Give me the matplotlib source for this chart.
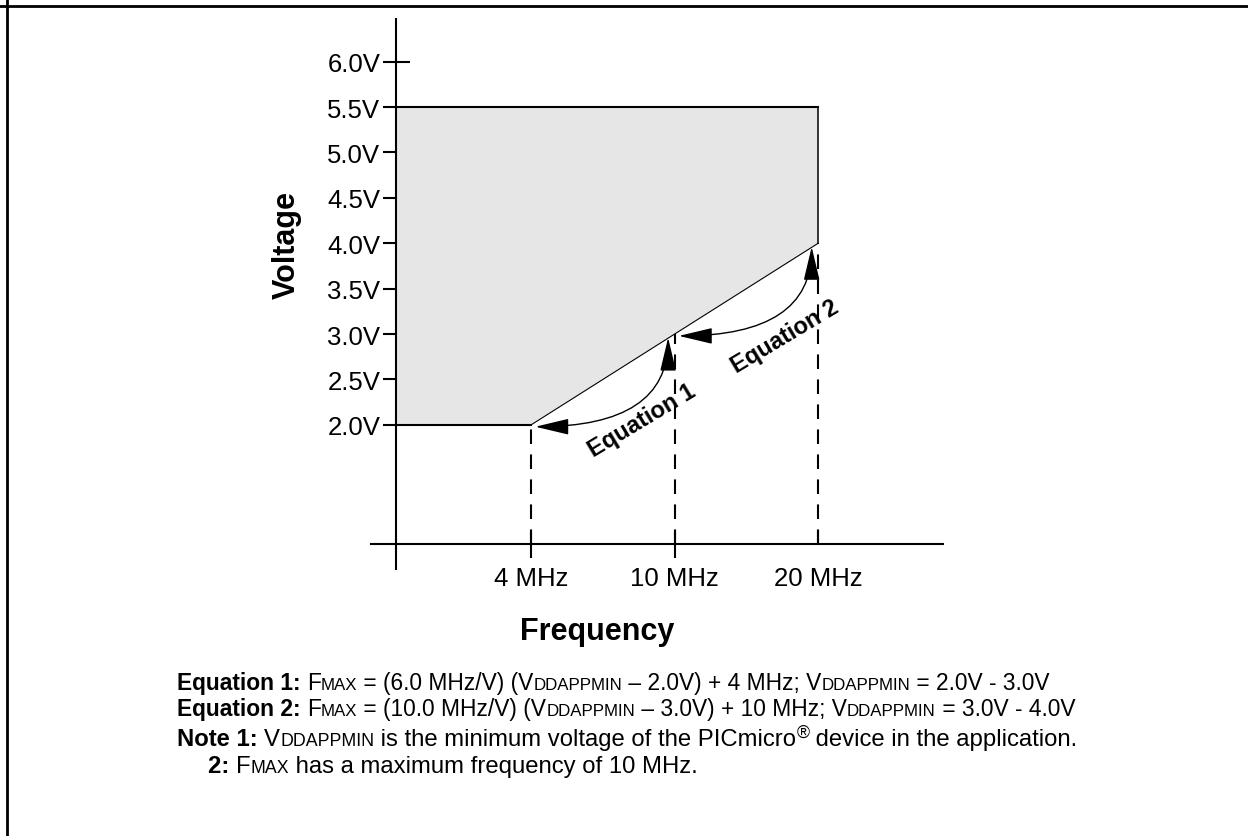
import matplotlib
matplotlib.use("Agg")
import matplotlib.pyplot as plt
from matplotlib.patches import FancyArrowPatch
from matplotlib.lines import Line2D

plt.rcParams['font.family'] = ['Liberation Sans', 'DejaVu Sans']

# dados do diagrama
freq_labels = ["4 MHz", "10 MHz", "20 MHz"]
freq_pos = [1, 2, 3]
vdd_min = [2.0, 3.0, 4.0]          # tensao minima em cada frequencia
v_max = 5.5
v_ticks = [2.0, 2.5, 3.0, 3.5, 4.0, 4.5, 5.0, 5.5, 6.0]
v_tick_labels = ["2.0V", "2.5V", "3.0V", "3.5V", "4.0V", "4.5V", "5.0V", "5.5V", "6.0V"]
eq_labels = ["Equation 1", "Equation 2"]

W, H = 1248, 837
fig = plt.figure(figsize=(W / 100, H / 100), dpi=100)

# eixo posicionado em pixels
left, right, top, bottom = 371, 943, 20, 570
ax = fig.add_axes([left / W, (H - bottom) / H, (right - left) / W, (bottom - top) / H])
ax.set_xlim(-0.115, 3.87)
ax.set_ylim(0.413, 6.47)
ax.patch.set_visible(False)

x0 = 0.06      # posicao do eixo vertical
y0 = 0.689     # posicao do eixo horizontal

for s in ['top', 'right']:
    ax.spines[s].set_visible(False)
ax.spines['left'].set_position(('data', x0))
ax.spines['bottom'].set_position(('data', y0))
ax.spines['left'].set_linewidth(1.5)
ax.spines['bottom'].set_linewidth(1.5)

# ticks
ax.xaxis.remove_overlapping_locs = False
ax.yaxis.remove_overlapping_locs = False
ax.set_xticks(freq_pos)
ax.set_xticklabels(freq_labels)
ax.set_xticks(freq_pos[:2], minor=True)
ax.set_yticks(v_ticks)
ax.set_yticklabels(v_tick_labels)
ax.set_yticks([v_ticks[-1]], minor=True)
ax.tick_params(axis='x', which='major', direction='in', length=10, width=1.5, pad=16, labelsize=18.5)
ax.tick_params(axis='x', which='minor', direction='out', length=10, width=1.5)
ax.tick_params(axis='y', which='major', direction='out', length=9.5, width=1.5, pad=2, labelsize=18.5)
ax.tick_params(axis='y', which='minor', direction='in', length=10, width=1.5)

# area de operacao
xs = [x0] + freq_pos + [freq_pos[-1], x0]
ys = [vdd_min[0]] + vdd_min + [v_max, v_max]
ax.fill(xs, ys, color='#e6e6e6', lw=0, zorder=1)
ax.plot([x0, freq_pos[0]], [vdd_min[0], vdd_min[0]], color='black', lw=1.5, zorder=2)
ax.plot(freq_pos, vdd_min, color='black', lw=0.8, zorder=2)
ax.plot([freq_pos[-1], freq_pos[-1]], [vdd_min[-1], v_max], color='black', lw=1.1, zorder=2)
ax.plot([x0, freq_pos[-1]], [v_max, v_max], color='black', lw=1.5, zorder=2)

# linhas tracejadas
for f, v in zip(freq_pos, vdd_min):
    ax.plot([f, f], [y0, v], color='black', lw=1.5, linestyle=(0, (7, 5)), zorder=2)

# setas curvas
for i in range(2):
    pA = (freq_pos[i] + 0.03, vdd_min[i] - 0.02)
    pB = (freq_pos[i + 1] - 0.045, vdd_min[i + 1] - 0.04)
    arr = FancyArrowPatch(pA, pB, arrowstyle='<|-|>,head_length=2.1,head_width=0.5',
                          connectionstyle='angle3,angleA=0,angleB=90',
                          mutation_scale=10, color='black', lw=1.0,
                          shrinkA=0, shrinkB=0, zorder=3)
    ax.add_patch(arr)

ax.text(1.77, 2.05, eq_labels[0], rotation=31, fontsize=17, fontweight='bold',
        ha='center', va='center', rotation_mode='anchor')
ax.text(2.77, 2.98, eq_labels[1], rotation=31, fontsize=17, fontweight='bold',
        ha='center', va='center', rotation_mode='anchor')

# titulos dos eixos
fig.text(287 / W, (H - 245) / H, "Voltage", rotation=90, fontsize=22, fontweight='bold',
         ha='center', va='center')
fig.text(597 / W, (H - 632) / H, "Frequency", fontsize=22, fontweight='bold',
         ha='center', va='center')

# borda
fig.add_artist(Line2D([0, 1], [(H - 7) / H, (H - 7) / H], color='black', lw=2))
fig.add_artist(Line2D([7 / W, 7 / W], [0, 1], color='black', lw=2))

# notas
renderer = fig.canvas.get_renderer()
BIG, SMALL = 16.4, 12.2
NBIG, NSMALL = 17.2, 12.8


def runs(x, y, parts):
    for s, size, bold, rise in parts:
        t = fig.text(x / W, (H - y + rise) / H, s, fontsize=size,
                     fontweight='bold' if bold else 'normal', va='baseline', ha='left')
        x += t.get_window_extent(renderer).width


runs(177, 690, [("Equation 1: ", BIG, True, 0), ("F", BIG, False, 0), ("MAX", SMALL, False, 0),
                (" = (6.0 MHz/V) (V", BIG, False, 0), ("DDAPPMIN", SMALL, False, 0),
                (" – 2.0V) + 4 MHz; V", BIG, False, 0), ("DDAPPMIN", SMALL, False, 0),
                (" = 2.0V - 3.0V", BIG, False, 0)])
runs(177, 716, [("Equation 2: ", BIG, True, 0), ("F", BIG, False, 0), ("MAX", SMALL, False, 0),
                (" = (10.0 MHz/V) (V", BIG, False, 0), ("DDAPPMIN", SMALL, False, 0),
                (" – 3.0V) + 10 MHz; V", BIG, False, 0), ("DDAPPMIN", SMALL, False, 0),
                (" = 3.0V - 4.0V", BIG, False, 0)])
runs(177, 746, [("Note 1: ", NBIG, True, 0), ("V", NBIG, False, 0), ("DDAPPMIN", NSMALL, False, 0),
                (" is the minimum voltage of the PICmicro", NBIG, False, 0), ("®", NSMALL, False, 8),
                (" device in the application.", NBIG, False, 0)])
runs(208, 773, [("2: ", NBIG, True, 0), ("F", NBIG, False, 0), ("MAX", NSMALL, False, 0),
                (" has a maximum frequency of 10 MHz.", NBIG, False, 0)])

fig.savefig("out.png", dpi=100)
